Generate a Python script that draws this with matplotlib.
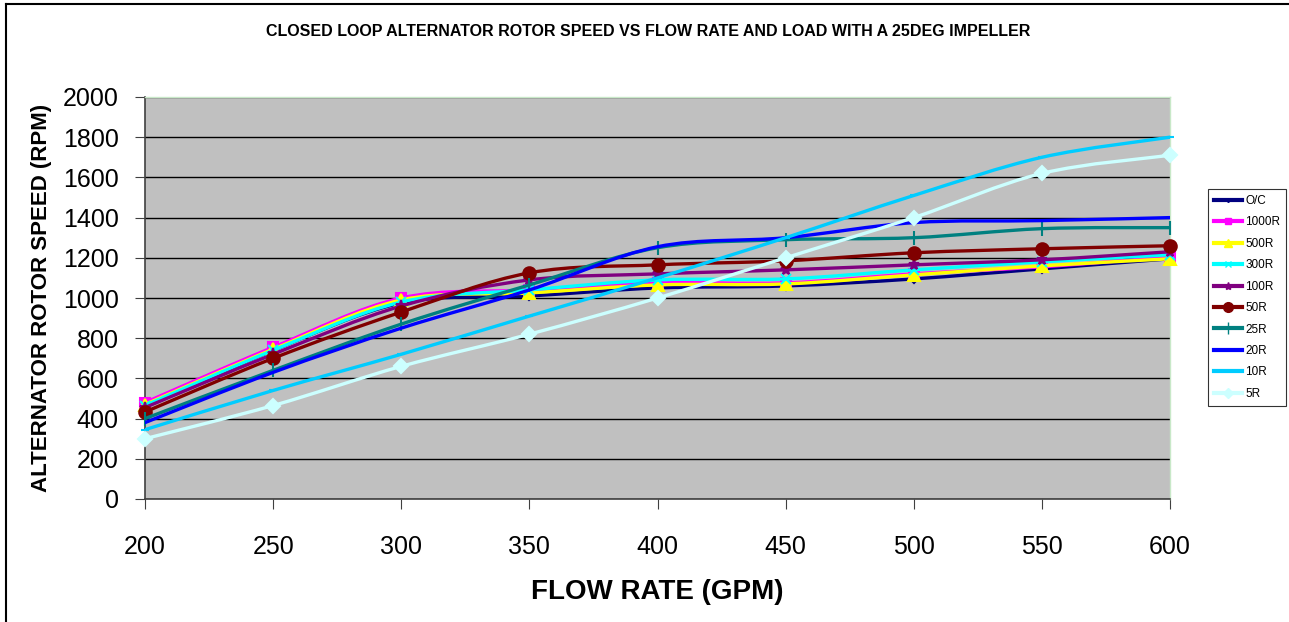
import matplotlib
matplotlib.use("Agg")
import matplotlib.pyplot as plt
from matplotlib.path import Path
from matplotlib.patches import PathPatch
from matplotlib.lines import Line2D

plt.rcParams['font.family'] = ['Liberation Sans', 'DejaVu Sans']

flow = [200, 250, 300, 350, 400, 450, 500, 550, 600]

oc = [460, 740, 975, 1010, 1050, 1060, 1095, 1145, 1195]
r1000 = [480, 755, 1000, 1040, 1075, 1075, 1120, 1155, 1205]
r500 = [470, 745, 990, 1025, 1065, 1070, 1115, 1160, 1195]
r300 = [465, 740, 980, 1040, 1090, 1095, 1140, 1180, 1215]
r100 = [455, 720, 960, 1090, 1120, 1140, 1165, 1190, 1230]
r50 = [433, 700, 930, 1125, 1165, 1185, 1225, 1245, 1260]
r25 = [400, 640, 870, 1065, 1250, 1290, 1300, 1345, 1350]
r20 = [380, 630, 850, 1040, 1255, 1300, 1375, 1385, 1400]
r10 = [345, 540, 720, 910, 1100, 1300, 1510, 1700, 1800]
r5 = [300, 465, 660, 820, 1000, 1200, 1400, 1620, 1710]

names = ['O/C', '1000R', '500R', '300R', '100R', '50R', '25R', '20R', '10R', '5R']
series = [oc, r1000, r500, r300, r100, r50, r25, r20, r10, r5]
colors = ['#000080', '#FF00FF', '#FFFF00', '#00FFFF', '#800080',
          '#800000', '#008080', '#0000FF', '#00CCFF', '#CCFFFF']
markers = ['D', 's', '^', 'x', '*', 'o', '|', '', '_', 'D']
msizes = [4, 7, 8, 7, 8, 9, 10, 0, 6, 7]


def smooth_path(xs, ys):
    # Excel-like smoothed line: Catmull-Rom segments as cubic Beziers
    pts = list(zip(xs, ys))
    verts = [pts[0]]
    codes = [Path.MOVETO]
    n = len(pts)
    for i in range(n - 1):
        p0 = pts[i - 1] if i > 0 else pts[i]
        p1 = pts[i]
        p2 = pts[i + 1]
        p3 = pts[i + 2] if i + 2 < n else pts[i + 1]
        c1 = (p1[0] + (p2[0] - p0[0]) / 6, p1[1] + (p2[1] - p0[1]) / 6)
        c2 = (p2[0] - (p3[0] - p1[0]) / 6, p2[1] - (p3[1] - p1[1]) / 6)
        verts += [c1, c2, p2]
        codes += [Path.CURVE4] * 3
    return Path(verts, codes)


fig = plt.figure(figsize=(12.89, 6.22), dpi=100)
ax = fig.add_axes([145 / 1289, 123 / 622, 1025 / 1289, 402 / 622])
ax.set_facecolor('#C0C0C0')

for k, (name, ys) in enumerate(zip(names, series)):
    z = 3 + k
    ax.add_patch(PathPatch(smooth_path(flow, ys), fill=False, edgecolor=colors[k],
                           lw=2.4, zorder=z, capstyle='round'))
    if markers[k]:
        ax.plot(flow, ys, linestyle='none', marker=markers[k], ms=msizes[k],
                color=colors[k], mec=colors[k], mew=1.5, zorder=z, clip_on=False)

ax.set_xlim(200, 600)
ax.set_ylim(0, 2000)
ax.set_xticks(range(200, 601, 50))
ax.set_yticks(range(0, 2001, 200))
ax.yaxis.grid(True, color='black', lw=1)
ax.set_axisbelow(True)
ax.tick_params(labelsize=18, direction='out', length=7, color='#404040')
ax.tick_params(axis='x', pad=19)
ax.tick_params(axis='y', pad=12)

for s in ['left', 'bottom']:
    ax.spines[s].set_color('#404040')
    ax.spines[s].set_linewidth(1.2)
for s in ['top', 'right']:
    ax.spines[s].set_color('#C8E8C8')
    ax.spines[s].set_linewidth(1)

ax.set_xlabel('FLOW RATE (GPM)', fontsize=20, fontweight='bold', labelpad=14)
ax.set_ylabel('ALTERNATOR ROTOR SPEED (RPM)', fontsize=16, fontweight='bold', labelpad=8)
fig.text(648 / 1289, 1 - 32 / 622,
         'CLOSED LOOP ALTERNATOR ROTOR SPEED VS FLOW RATE AND LOAD WITH A 25DEG IMPELLER',
         ha='center', va='center', fontsize=11.5, fontweight='bold')

handles = [Line2D([0], [0], color=colors[k], lw=3, marker=markers[k] or None,
                  ms=max(msizes[k] - 2, 0), mec=colors[k])
           for k in range(len(names))]
leg = fig.legend(handles, names, loc='upper left',
                 bbox_to_anchor=(1208 / 1289, 1 - 189 / 622),
                 fontsize=8.5, frameon=True, fancybox=False, handlelength=2.4,
                 handletextpad=0.25, borderpad=0.5, labelspacing=0.8,
                 borderaxespad=0)
leg.get_frame().set_edgecolor('black')
leg.get_frame().set_linewidth(0.8)

# outer chart border: only top and left edges are visible in the picture
fig.add_artist(Line2D([6 / 1289, 6 / 1289], [0, 1 - 4 / 622], color='black',
                      lw=1.5, transform=fig.transFigure))
fig.add_artist(Line2D([6 / 1289, 1], [1 - 4 / 622, 1 - 4 / 622], color='black',
                      lw=1.5, transform=fig.transFigure))

fig.savefig('out.png', dpi=100)
